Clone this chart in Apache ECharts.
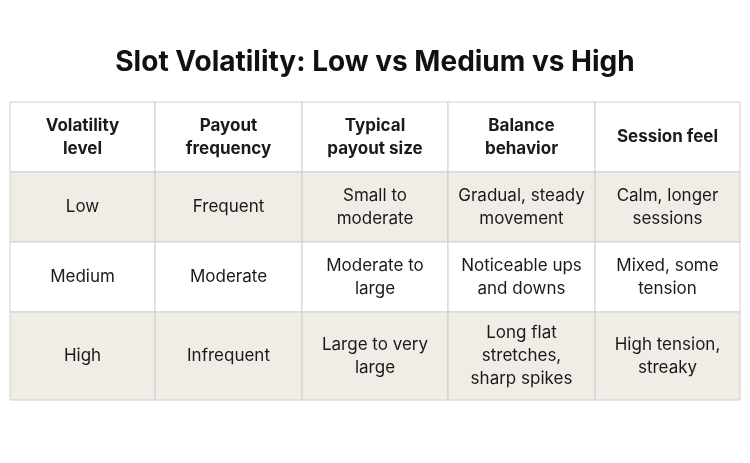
<!DOCTYPE html>
<html>
<head>
<meta charset="utf-8">
<script src="https://cdn.jsdelivr.net/npm/echarts@6/dist/echarts.min.js"></script>
<style>html,body{margin:0;padding:0;background:#fff}#chart{width:750px;height:463px}</style>
</head>
<body>
<div id="chart"></div>
<script>
const title = 'Slot Volatility: Low vs Medium vs High';
const headers = ['Volatility\nlevel', 'Payout\nfrequency', 'Typical\npayout size', 'Balance\nbehavior', 'Session feel'];
const rowLow = ['Low', 'Frequent', 'Small to\nmoderate', 'Gradual, steady\nmovement', 'Calm, longer\nsessions'];
const rowMedium = ['Medium', 'Moderate', 'Moderate to\nlarge', 'Noticeable ups\nand downs', 'Mixed, some\ntension'];
const rowHigh = ['High', 'Infrequent', 'Large to very\nlarge', 'Long flat\nstretches,\nsharp spikes', 'High tension,\nstreaky'];

const rows = [headers, rowLow, rowMedium, rowHigh];
const colEdges = [10, 155, 302, 448, 595, 740];
const rowEdges = [102, 172, 242, 312, 400];
const rowFill = ['#ffffff', '#efede6', '#ffffff', '#efede6'];

const chart = echarts.init(document.getElementById('chart'));
const elements = [];

rows.forEach((row, r) => {
  row.forEach((text, c) => {
    const x = colEdges[c], y = rowEdges[r];
    const w = colEdges[c + 1] - x, h = rowEdges[r + 1] - y;
    elements.push({
      type: 'rect',
      shape: { x, y, width: w, height: h },
      style: { fill: rowFill[r], stroke: '#cfcfcf', lineWidth: 1 }
    });
    elements.push({
      type: 'text',
      x: x + w / 2,
      y: y + h / 2,
      style: {
        text,
        align: 'center',
        verticalAlign: 'middle',
        fontFamily: 'Inter, Roboto, sans-serif',
        fontSize: 17,
        fontWeight: r === 0 ? 'bold' : 'normal',
        lineHeight: 23,
        fill: '#1a1a1a'
      }
    });
  });
});

chart.setOption({
  title: {
    text: title,
    left: 'center',
    top: 44,
    textStyle: { fontFamily: 'Inter, Roboto, sans-serif', fontSize: 28, fontWeight: 'bold', color: '#111' }
  },
  graphic: elements
});
</script>
</body>
</html>
